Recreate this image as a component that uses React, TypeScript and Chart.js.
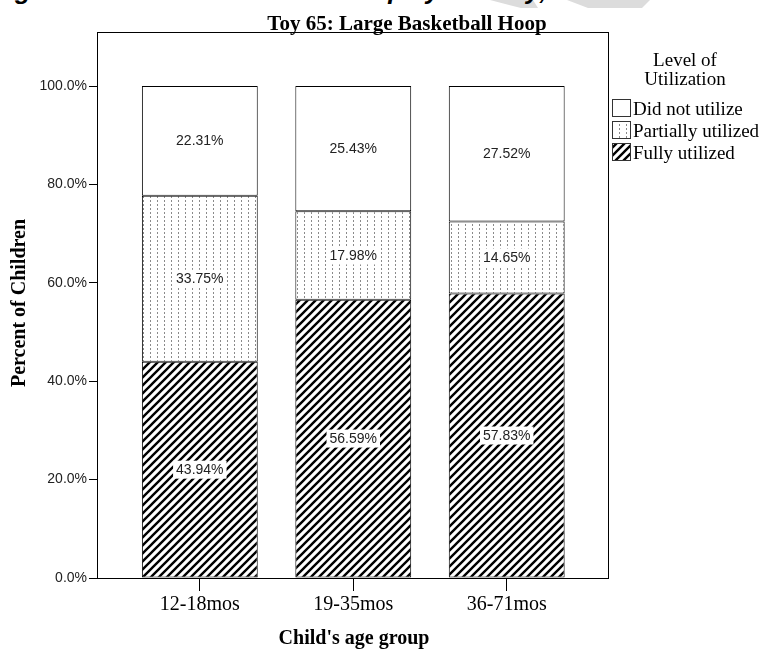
import React, { useEffect, useRef } from 'react';
import { Chart, registerables } from 'chart.js';

Chart.register(...registerables);

const categories = ['12-18mos', '19-35mos', '36-71mos'];
const fullyUtilized = [43.94, 56.59, 57.83];
const partiallyUtilized = [33.75, 17.98, 14.65];
const didNotUtilize = [22.31, 25.43, 27.52];
const yTickValues = [0, 20, 40, 60, 80, 100];
const seriesLabels = ['Fully utilized', 'Partially utilized', 'Did not utilize'];
const legendOrder = [2, 1, 0];
const chartTitle = 'Toy 65: Large Basketball Hoop';
const xTitle = "Child's age group";
const yTitle = 'Percent of Children';
const legendTitle = ['Level of', 'Utilization'];
const pageHeading = "Figure 65: Children's Utilization play Activity,";

function makeHatch(): CanvasPattern | string {
  const c = document.createElement('canvas');
  c.width = 8;
  c.height = 8;
  const g = c.getContext('2d');
  if (!g) return '#000';
  g.fillStyle = '#fff';
  g.fillRect(0, 0, 8, 8);
  g.strokeStyle = '#000';
  g.lineWidth = 2.4;
  g.beginPath();
  g.moveTo(-1, 9);
  g.lineTo(9, -1);
  g.moveTo(-5, 5);
  g.lineTo(5, -5);
  g.moveTo(3, 13);
  g.lineTo(13, 3);
  g.stroke();
  return g.createPattern(c, 'repeat') || '#000';
}

function makeDots(): CanvasPattern | string {
  const c = document.createElement('canvas');
  c.width = 7;
  c.height = 4;
  const g = c.getContext('2d');
  if (!g) return '#ccc';
  g.fillStyle = '#fff';
  g.fillRect(0, 0, 7, 4);
  g.fillStyle = '#8a8a8a';
  g.fillRect(3, 0, 1, 2);
  return g.createPattern(c, 'repeat') || '#ccc';
}

export default function App() {
  const ref = useRef<HTMLCanvasElement>(null);

  useEffect(() => {
    document.body.style.margin = '0';
    const canvas = ref.current;
    if (!canvas) return;
    const hatch = makeHatch();
    const dots = makeDots();
    const fills = [hatch, dots, '#ffffff'];
    const seriesValues = [fullyUtilized, partiallyUtilized, didNotUtilize];

    const decor = {
      id: 'decor',
      afterDraw(chart: any) {
        const ctx = chart.ctx as CanvasRenderingContext2D;
        const { left, top, right, bottom } = chart.chartArea;
        ctx.save();
        // frame
        ctx.strokeStyle = '#000';
        ctx.lineWidth = 1;
        ctx.strokeRect(Math.round(left) + 0.5, Math.round(top) + 0.5, Math.round(right - left), Math.round(bottom - top));

        // value labels
        ctx.font = '14px "Liberation Sans"';
        ctx.textAlign = 'center';
        ctx.textBaseline = 'middle';
        chart.data.datasets.forEach((_ds: any, di: number) => {
          const meta = chart.getDatasetMeta(di);
          meta.data.forEach((el: any, i: number) => {
            const p = el.getProps(['x', 'y', 'base'], true);
            const cy = (p.y + p.base) / 2;
            const txt = seriesValues[di][i].toFixed(2) + '%';
            const w = ctx.measureText(txt).width;
            ctx.fillStyle = '#fff';
            ctx.fillRect(p.x - w / 2 - 3, cy - 9, w + 6, 18);
            ctx.fillStyle = '#222';
            ctx.fillText(txt, p.x, cy + 0.5);
          });
        });

        // titles
        ctx.fillStyle = '#000';
        ctx.textBaseline = 'alphabetic';
        ctx.textAlign = 'center';
        ctx.font = 'bold 21px "Liberation Serif"';
        ctx.fillText(chartTitle, 407, 30);
        ctx.font = 'bold 20px "Liberation Serif"';
        ctx.fillText(xTitle, 354, 644);
        ctx.save();
        ctx.translate(25, 303);
        ctx.rotate(-Math.PI / 2);
        ctx.fillText(yTitle, 0, 0);
        ctx.restore();

        // legend
        ctx.font = '19px "Liberation Serif"';
        ctx.fillText(legendTitle[0], 685, 66);
        ctx.fillText(legendTitle[1], 685, 85);
        ctx.textAlign = 'left';
        legendOrder.forEach((s, k) => {
          const by = 99 + k * 22;
          ctx.fillStyle = fills[s] as any;
          ctx.fillRect(612, by, 19, 18);
          ctx.strokeStyle = '#333';
          ctx.lineWidth = 1;
          ctx.strokeRect(612.5, by + 0.5, 18, 17);
          ctx.fillStyle = '#000';
          ctx.fillText(seriesLabels[s], 633, by + 16);
        });
        ctx.restore();
      },
    };

    const chart = new Chart(canvas, {
      type: 'bar',
      data: {
        datasets: seriesValues.map((vals, s) => ({
          label: seriesLabels[s],
          data: vals.map((v, i) => ({ x: i, y: v })),
          backgroundColor: fills[s] as any,
          borderColor: '#000',
          borderWidth: 1,
          borderSkipped: false,
          categoryPercentage: 1,
          barPercentage: 0.755,
        })),
      },
      options: {
        animation: false,
        responsive: false,
        devicePixelRatio: 1,
        layout: { padding: { top: 32, right: 152, left: 0, bottom: 0 } },
        plugins: {
          legend: { display: false },
          title: { display: false },
          tooltip: { enabled: false },
        },
        scales: {
          x: {
            type: 'linear',
            stacked: true,
            offset: false,
            min: -0.67,
            max: 2.66,
            afterBuildTicks: (s: any) => {
              s.ticks = categories.map((_c, i) => ({ value: i }));
            },
            afterFit: (s: any) => {
              s.height = 72;
            },
            ticks: {
              callback: (v: any) => categories[Number(v)] ?? '',
              font: { family: 'Liberation Serif', size: 20 },
              color: '#000',
              padding: 2,
              maxRotation: 0,
              autoSkip: false,
            },
            grid: { offset: false, drawOnChartArea: false, drawTicks: true, tickLength: 13, color: '#000' },
            border: { display: true, color: '#000', width: 1 },
          },
          y: {
            type: 'linear',
            stacked: true,
            min: 0,
            max: 111,
            afterBuildTicks: (s: any) => {
              s.ticks = yTickValues.map((v) => ({ value: v }));
            },
            afterFit: (s: any) => {
              s.width = 97;
            },
            ticks: {
              callback: (v: any) => Number(v).toFixed(1) + '%',
              font: { family: 'Liberation Sans', size: 14 },
              color: '#222',
              padding: 2,
            },
            grid: { drawOnChartArea: false, drawTicks: true, tickLength: 8, color: '#000' },
            border: { display: true, color: '#000', width: 1 },
          },
        },
      },
      plugins: [decor],
    } as any);

    return () => chart.destroy();
  }, []);

  return (
    <div style={{ position: 'relative', width: 760, height: 650, background: '#fff', overflow: 'hidden' }}>
      <div
        style={{
          position: 'absolute',
          left: 0,
          top: 0,
          width: 760,
          height: 10,
          background: '#dcdcdc',
          clipPath: 'polygon(490px 0, 533px 0, 538px 8px, 521px 8px, 490px 0, 567px 0, 650px 0, 642px 8px, 588px 8px, 567px 0)',
        }}
      />
      <div
        style={{
          position: 'absolute',
          left: -8,
          top: -23,
          fontFamily: '"Liberation Sans"',
          fontWeight: 'bold',
          fontStyle: 'italic',
          fontSize: 26,
          lineHeight: '26px',
          whiteSpace: 'nowrap',
          color: '#000',
        }}
      >
        {pageHeading}
      </div>
      <canvas ref={ref} width={760} height={650} style={{ position: 'absolute', left: 0, top: 0, width: 760, height: 650 }} />
    </div>
  );
}
